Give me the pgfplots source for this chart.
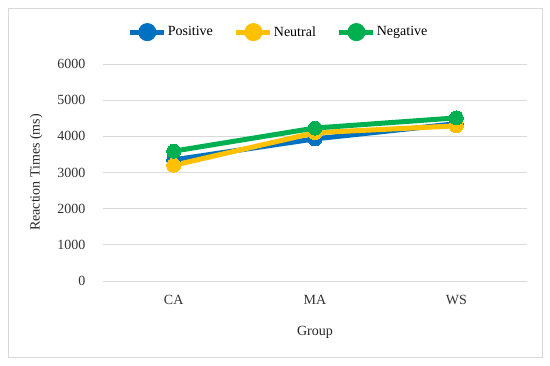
\documentclass[border=0pt]{standalone}
\usepackage{pgfplots}
\pgfplotsset{compat=1.18}
\usepackage{fontspec}
\setmainfont{Liberation Serif}
\definecolor{cpos}{HTML}{0070C0}
\definecolor{cneu}{HTML}{FFC000}
\definecolor{cneg}{HTML}{00B050}
\definecolor{gridc}{HTML}{D9D9D9}
\begin{document}
\begin{tikzpicture}[x=1pt,y=1pt]
\path[use as bounding box] (-103,-84) rectangle (447,281);
\draw[gridc, line width=0.8pt] (-95,-76) rectangle (439,273);
\begin{axis}[
  at={(0,0)}, anchor=south west,
  width=424pt, height=217pt, scale only axis,
  xmin=-0.5, xmax=2.5, ymin=0, ymax=6000,
  xtick={0,1,2}, xticklabels={CA,MA,WS},
  ytick={0,1000,...,6000},
  axis line style={draw=none},
  axis x line*=bottom,
  tick style={draw=none},
  ymajorgrids, grid style={gridc, line width=0.8pt},
  /pgf/number format/assume math mode=true,
  /pgf/number format/1000 sep={},
  ticklabel style={font=\fontsize{14}{16}\selectfont, text=black!80},
  yticklabel style={xshift=-14pt},
  xticklabel style={yshift=-11pt},
  xlabel={Group}, ylabel={Reaction Times (ms)},
  label style={font=\fontsize{14}{16}\selectfont, text=black!85},
  xlabel style={yshift=-14pt},
  ylabel style={yshift=8pt},
  legend style={at={(0.413,1.147)}, anchor=center, draw=none, fill=none,
    legend columns=3, font=\fontsize{14}{16}\selectfont,
    inner sep=0pt, nodes={inner xsep=1pt},
    /tikz/every even column/.append style={column sep=20pt}},
  legend image code/.code={
    \draw[#1, line width=5pt] (0pt,0pt) -- (34pt,0pt);
    \fill[#1] (17pt,0pt) circle (6.5pt);
  },
  legend cell align=left,
  every axis plot/.append style={line width=5pt, mark=*, mark size=7pt,
    mark options={line width=0pt}},
]
\addplot[cpos] coordinates {(0,3350) (1,3930) (2,4350)};
\addplot[cneu] coordinates {(0,3200) (1,4100) (2,4290)};
\addplot[cneg] coordinates {(0,3590) (1,4230) (2,4510)};
\legend{Positive,Neutral,Negative}
\end{axis}
\end{tikzpicture}
\end{document}
